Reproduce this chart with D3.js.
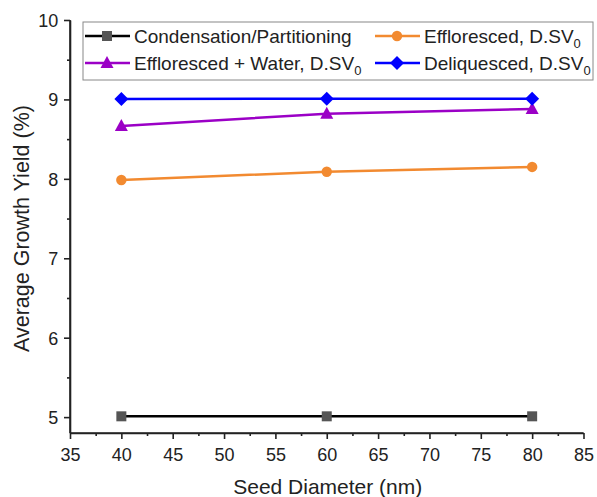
<!DOCTYPE html>
<html><head><meta charset="utf-8">
<script src="https://cdn.jsdelivr.net/npm/d3@7"></script>
<style>body{margin:0;background:#fff}svg{display:block}text{font-family:"Liberation Sans",Arial,sans-serif;fill:#222}</style>
</head><body><svg id="c" width="597" height="497"></svg>
<script>
const diameters = [40, 60, 80];
const condensation = [5.01, 5.01, 5.01];
const effloresced = [7.985, 8.09, 8.15];
const efflorescedWater = [8.665, 8.82, 8.88];
const deliquesced = [9.005, 9.01, 9.01];
const xTicks = [35, 40, 45, 50, 55, 60, 65, 70, 75, 80, 85];
const yTicks = [5, 6, 7, 8, 9, 10];

const series = [
  {name: "Condensation/Partitioning", sub: false, values: condensation, color: "#000000", mcolor: "#555555", shape: "square"},
  {name: "Effloresced, D.SV", sub: true, values: effloresced, color: "#f28a30", mcolor: "#f28a30", shape: "circle"},
  {name: "Effloresced + Water, D.SV", sub: true, values: efflorescedWater, color: "#9b00c6", mcolor: "#9b00c6", shape: "triangle"},
  {name: "Deliquesced, D.SV", sub: true, values: deliquesced, color: "#0000ff", mcolor: "#0000ff", shape: "diamond"}
];

const svg = d3.select("#c");
const L = 70, R = 583.5, T = 20, B = 433;
const x = d3.scaleLinear().domain([35, 85]).range([L, R]);
const y = d3.scaleLinear().domain([4.8, 10]).range([B, T]);

function sym(shape){
  if (shape === "diamond") return "M0,-7L7,0L0,7L-7,0Z";
  if (shape === "triangle") return "M0,-7L6.5,5L-6.5,5Z";
  if (shape === "square") return "M-5,-5H5V5H-5Z";
  return d3.symbol().type(d3.symbolCircle).size(85)();
}

// axes
const xAx = svg.append("g").attr("transform", `translate(0,${B})`)
  .call(d3.axisBottom(x).tickValues(xTicks).tickSize(6).tickSizeOuter(0));
const xMinor = svg.append("g").attr("transform", `translate(0,${B})`)
  .call(d3.axisBottom(x).tickValues(d3.range(37.5, 85, 5)).tickSize(3).tickFormat("").tickSizeOuter(0));
const yAx = svg.append("g").attr("transform", `translate(${L},0)`)
  .call(d3.axisLeft(y).tickValues(yTicks).tickFormat(d3.format("d")).tickSize(6).tickSizeOuter(0));
const yMinor = svg.append("g").attr("transform", `translate(${L},0)`)
  .call(d3.axisLeft(y).tickValues(d3.range(5.5, 10, 1)).tickSize(3).tickFormat("").tickSizeOuter(0));
[xAx, xMinor, yAx, yMinor].forEach(g => {
  g.selectAll("path,line").attr("stroke", "#222").attr("stroke-width", 1.6);
});
xAx.selectAll("text").attr("font-size", 18).attr("dy", "1.05em").attr("fill", "#222");
yAx.selectAll("text").attr("font-size", 18).attr("dx", "-0.15em").attr("dy", "0.35em").attr("fill", "#222");
yAx.select("path").attr("d", `M0,${B}V${T}`);
xAx.select("path").attr("d", `M${L},0H${R}`);

svg.append("text").attr("x", (L + R) / 2 + 1).attr("y", 494).attr("text-anchor", "middle")
  .attr("font-size", 21).text("Seed Diameter (nm)");
svg.append("text").attr("transform", `translate(29,${(T + B) / 2 + 2}) rotate(-90)`).attr("text-anchor", "middle")
  .attr("font-size", 21.5).text("Average Growth Yield (%)");

// lines
const line = d3.line().x((d, i) => x(diameters[i])).y(d => y(d));
series.forEach(s => {
  svg.append("path").attr("d", line(s.values)).attr("fill", "none").attr("stroke", s.color).attr("stroke-width", 2.5);
  svg.selectAll(null).data(s.values).enter().append("path")
    .attr("d", sym(s.shape))
    .attr("transform", (d, i) => `translate(${x(diameters[i])},${y(d)})`)
    .attr("fill", s.mcolor);
});

// legend
svg.append("rect").attr("x", 83).attr("y", 22).attr("width", 510).attr("height", 58)
  .attr("fill", "#fff").attr("stroke", "#888").attr("stroke-width", 1);
const legPos = [[83, 36], [373, 36], [83, 63], [373, 63]];
series.forEach((s, i) => {
  const [lx, ly] = legPos[i];
  const g = svg.append("g").attr("transform", `translate(${lx},${ly})`);
  g.append("line").attr("x1", 2).attr("x2", 47).attr("y1", 0).attr("y2", 0).attr("stroke", s.color).attr("stroke-width", 2.5);
  g.append("path").attr("d", sym(s.shape)).attr("transform", "translate(24,0)").attr("fill", s.mcolor);
  const t = g.append("text").attr("x", 51).attr("y", 6.5).attr("font-size", 19);
  t.append("tspan").text(s.name);
  if (s.sub) t.append("tspan").attr("font-size", 13).attr("dy", 5).text("0");
});
</script></body></html>
